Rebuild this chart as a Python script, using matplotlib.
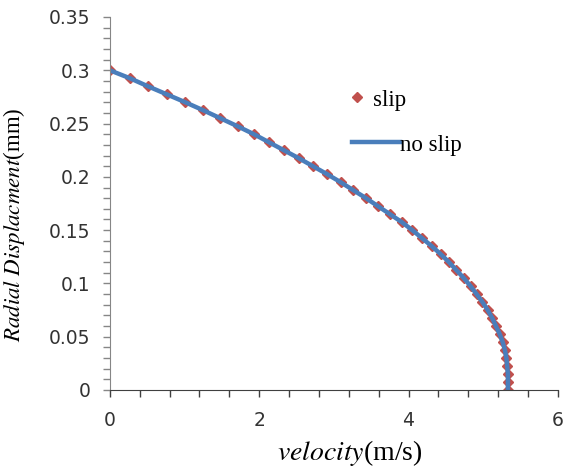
import matplotlib
matplotlib.use("Agg")
import matplotlib.pyplot as plt
from matplotlib.lines import Line2D
from matplotlib.ticker import MultipleLocator

# radial position (mm) and velocity (m/s)
radial = [0.3, 0.2925, 0.285, 0.2775, 0.27, 0.2625, 0.255, 0.2475, 0.24, 0.2325,
          0.225, 0.2175, 0.21, 0.2025, 0.195, 0.1875, 0.18, 0.1725, 0.165, 0.1575,
          0.15, 0.1425, 0.135, 0.1275, 0.12, 0.1125, 0.105, 0.0975, 0.09, 0.0825,
          0.075, 0.0675, 0.06, 0.0525, 0.045, 0.0375, 0.03, 0.0225, 0.015, 0.0075, 0.0]
vel_slip = [0.0, 0.27, 0.51, 0.76, 1.01, 1.25, 1.48, 1.71, 1.93, 2.13,
            2.33, 2.53, 2.72, 2.91, 3.09, 3.26, 3.43, 3.59, 3.75, 3.91,
            4.05, 4.18, 4.31, 4.43, 4.54, 4.64, 4.74, 4.83, 4.91, 4.99,
            5.06, 5.12, 5.17, 5.22, 5.26, 5.29, 5.31, 5.32, 5.33, 5.33, 5.33]
vel_noslip = vel_slip

blue = "#4a7ebb"
red = "#c0504d"

plt.rcParams["mathtext.fontset"] = "stix"

fig = plt.figure(figsize=(5.63, 4.68), dpi=100)
ax = fig.add_axes([0.195, 0.1667, 0.796, 0.797])

ax.plot(vel_noslip, radial, color=blue, lw=3.2, zorder=2)
ax.plot(vel_slip, radial, ls="none", marker="D", ms=5.5, color=red, mec=red, zorder=1)

ax.set_xlim(0, 6)
ax.set_ylim(0, 0.35)
ax.xaxis.set_major_locator(MultipleLocator(2))
ax.xaxis.set_minor_locator(MultipleLocator(0.4))
ax.yaxis.set_major_locator(MultipleLocator(0.05))
ax.yaxis.set_minor_locator(MultipleLocator(0.01))
ax.yaxis.set_major_formatter(plt.FuncFormatter(lambda v, p: "0" if v == 0 else f"{v:g}"))

for s in ["top", "right"]:
    ax.spines[s].set_visible(False)
ax.spines["left"].set_color("#868686")
ax.spines["bottom"].set_color("#404040")

ax.tick_params(axis="y", which="both", length=5, width=1, color="#868686", pad=9)
ax.tick_params(axis="x", which="both", length=5, width=1, color="#404040", pad=10)
for lab in ax.get_xticklabels() + ax.get_yticklabels():
    lab.set_fontfamily("DejaVu Sans")
    lab.set_fontsize(13.5)
    lab.set_color("#333333")

ax.set_xlabel(r"$\it{velocity}$(m/s)", family="Liberation Serif", fontsize=20)
ax.set_ylabel(r"$\it{Radial\ Displacment}$(mm)", family="Liberation Serif", fontsize=16.5)
ax.xaxis.set_label_coords(0.536, -0.128)
ax.yaxis.set_label_coords(-0.185, 0.442)

# legend: two entries placed separately, like the original
leg1 = fig.legend([Line2D([], [], ls="none", marker="D", ms=5.5, color=red)], ["slip"],
                  loc="center left", bbox_to_anchor=(348 / 563, 1 - 100 / 468),
                  frameon=False, handlelength=0.8, handletextpad=0.3, borderpad=0,
                  borderaxespad=0, prop={"family": "Liberation Serif", "size": 16.5})
leg2 = fig.legend([Line2D([], [], color=blue, lw=3.2)], ["no slip"],
                  loc="center left", bbox_to_anchor=(352 / 563, 1 - 145 / 468),
                  frameon=False, handlelength=2.1, handletextpad=0.0, borderpad=0,
                  borderaxespad=0, prop={"family": "Liberation Serif", "size": 16.5})

fig.savefig("out.png", dpi=100)
